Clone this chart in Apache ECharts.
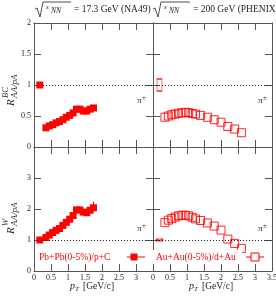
<!DOCTYPE html>
<html><head><meta charset="utf-8">
<script src="https://cdn.jsdelivr.net/npm/echarts@6/dist/echarts.min.js"></script>
<style>html,body{margin:0;padding:0;background:#fff}#c{width:276px;height:296px}</style>
</head><body><div id="c"></div>
<script>
// ---- data ----
const pT_NA49 = [0.17, 0.35, 0.45, 0.55, 0.65, 0.75, 0.85, 0.95, 1.05, 1.15, 1.25, 1.35, 1.45, 1.55, 1.65, 1.75];
const RBC_NA49 = [1.0, 0.31, 0.34, 0.36, 0.39, 0.41, 0.44, 0.48, 0.51, 0.55, 0.61, 0.61, 0.58, 0.58, 0.61, 0.63];
const RW_NA49  = [1.0, 1.08, 1.16, 1.24, 1.31, 1.37, 1.47, 1.57, 1.67, 1.79, 1.97, 1.97, 1.90, 1.88, 1.96, 2.04];
const RW_NA49_err = [0, 0, 0, 0, 0, 0, 0, 0, 0, 0, 0, 0, 0, 0, 0, 0.2];
const pT_PHENIX = [0.19, 0.35, 0.45, 0.55, 0.65, 0.75, 0.85, 0.95, 1.05, 1.15, 1.25, 1.4, 1.6, 1.8, 2.0, 2.2, 2.4, 2.6];
const RBC_PHENIX = [1.0, 0.48, 0.50, 0.52, 0.53, 0.545, 0.55, 0.56, 0.555, 0.54, 0.53, 0.51, 0.48, 0.44, 0.40, 0.33, 0.29, 0.23];
const RW_PHENIX  = [1.0, 1.56, 1.64, 1.69, 1.74, 1.78, 1.80, 1.80, 1.78, 1.73, 1.68, 1.63, 1.55, 1.45, 1.32, 1.03, 0.89, 0.73];
const legendNA49 = 'Pb+Pb(0-5%)/p+C';
const legendPHENIX = 'Au+Au(0-5%)/d+Au';
const titleNA49 = '= 17.3 GeV (NA49)';
const titlePHENIX = '= 200 GeV (PHENIX)';

const RED = '#ff0000';
const AX = '#555';
const FONT = '"Liberation Serif","DejaVu Serif",serif';

const grids = [
  {left:34, top:23, width:119, height:124, outerBoundsMode:'none', containLabel:false},
  {left:153, top:23, width:119, height:124, outerBoundsMode:'none', containLabel:false},
  {left:34, top:147, width:119, height:124, outerBoundsMode:'none', containLabel:false},
  {left:153, top:147, width:119, height:124, outerBoundsMode:'none', containLabel:false}
];

function zip(xs, ys){ return xs.map((x,i)=>[x, ys[i]]); }

const xAxes = [], yAxes = [];
grids.forEach((g,i)=>{
  const bottomRow = i >= 2;
  const rightCol = i % 2 === 1;
  ['bottom','top'].forEach(pos=>{
    xAxes.push({
      gridIndex:i, type:'value', min:0, max:3.5, interval:0.5, position:pos,
      axisLine:{show:true, onZero:false, lineStyle:{color:AX, width:1}},
      axisTick:{show:true, inside:true, length:7, lineStyle:{color:AX}},
      splitLine:{show:false},
      axisLabel:{show: bottomRow && pos==='bottom', showMaxLabel: rightCol, alignMaxLabel:'center', hideOverlap:false, fontFamily:FONT, fontSize:8, color:'#222', margin:3}
    });
  });
  ['left','right'].forEach(pos=>{
    yAxes.push({
      gridIndex:i, type:'value', min:0, max: bottomRow?4:2, interval: bottomRow?1:0.5, position:pos,
      axisLine:{show:true, onZero:false, lineStyle:{color:AX, width:1}},
      axisTick:{show:true, inside:true, length:7, lineStyle:{color:AX}},
      splitLine:{show:false},
      axisLabel:{show: !rightCol && pos==='left', showMaxLabel: !bottomRow, fontFamily:FONT, fontSize:8, color:'#222', margin:3}
    });
  });
});

function refLine(i){
  return {type:'line', xAxisIndex:2*i, yAxisIndex:2*i, data:[], z:1, silent:true,
    markLine:{silent:true, symbol:'none', label:{show:false},
      lineStyle:{color:'#222', type:[1,2], width:1}, data:[{yAxis:1}]}};
}

const series = [
  refLine(0), refLine(1), refLine(2), refLine(3),
  {type:'scatter', name:legendNA49, xAxisIndex:0, yAxisIndex:0, z:3, symbol:'rect', symbolSize:7,
   itemStyle:{color:RED, opacity:1}, data: zip(pT_NA49, RBC_NA49)},
  {type:'scatter', name:legendPHENIX, xAxisIndex:2, yAxisIndex:2, z:3, symbol:'rect',
   symbolSize:(v,p)=> p.dataIndex===0 ? [5,12] : 8,
   itemStyle:{color:'rgba(0,0,0,0)', borderColor:RED, borderWidth:1, opacity:0.85}, data: zip(pT_PHENIX, RBC_PHENIX)},
  {type:'custom', xAxisIndex:4, yAxisIndex:4, z:4, silent:true,
   data: pT_NA49.map((x,i)=>[x, RW_NA49[i], RW_NA49_err[i]]).filter(d=>d[2]>0),
   renderItem:(params, api)=>{
     const p0 = api.coord([api.value(0), api.value(1)]);
     const p1 = api.coord([api.value(0), api.value(1)+api.value(2)]);
     return {type:'line', shape:{x1:p0[0], y1:p0[1], x2:p1[0], y2:p1[1]}, style:{stroke:RED, lineWidth:1}};
   }},
  {type:'scatter', name:legendNA49, xAxisIndex:4, yAxisIndex:4, z:3, symbol:'rect', symbolSize:7,
   itemStyle:{color:RED, opacity:1}, data: zip(pT_NA49, RW_NA49)},
  {type:'scatter', name:legendPHENIX, xAxisIndex:6, yAxisIndex:6, z:3, symbol:'rect',
   symbolSize:(v,p)=> p.dataIndex===0 ? [5,2] : 8,
   itemStyle:{color:'rgba(0,0,0,0)', borderColor:RED, borderWidth:1, opacity:0.85}, data: zip(pT_PHENIX, RW_PHENIX)}
];

function txt(x,y,text,opts){
  return {type:'text', x:x, y:y, z:100, style:Object.assign({text:text, fontFamily:FONT, fontSize:8, fill:'#222', align:'left', verticalAlign:'middle'}, opts||{})};
}
function rot(el){ el.rotation = Math.PI/2; return el; }
function pion(x,y){ return [txt(x,y+1,'π',{fontSize:9}), txt(x+5,y-2,'±',{fontSize:7})]; }

const graphic = [
  {type:'polyline', z:100, shape:{points:[[35,9],[37,8],[40,17],[43,2],[71,2]]}, style:{stroke:'#222', lineWidth:0.8, fill:null}},
  txt(46,7,'s',{fontStyle:'italic', fontSize:7}),
  txt(51,11,'NN',{fontStyle:'italic', fontSize:7.5}),
  txt(74,9,titleNA49,{fontSize:9.5}),
  {type:'polyline', z:100, shape:{points:[[153,9],[155,8],[158,17],[161,2],[190,2]]}, style:{stroke:'#222', lineWidth:0.8, fill:null}},
  txt(164,7,'s',{fontStyle:'italic', fontSize:7}),
  txt(169,11,'NN',{fontStyle:'italic', fontSize:7.5}),
  txt(193,9,titlePHENIX,{fontSize:9.5}),
  rot(txt(11,106,'R',{fontStyle:'italic', fontSize:11, fill:'#333'})),
  rot(txt(6,98,'BC',{fontStyle:'italic', fontSize:8.5, fill:'#333'})),
  rot(txt(15,98,'AA/pA',{fontStyle:'italic', fontSize:9, fill:'#333'})),
  rot(txt(11,234,'R',{fontStyle:'italic', fontSize:11, fill:'#333'})),
  rot(txt(6,226,'W',{fontStyle:'italic', fontSize:8.5, fill:'#333'})),
  rot(txt(15,226,'AA/pA',{fontStyle:'italic', fontSize:9, fill:'#333'})),
  txt(70,286,'p',{fontStyle:'italic', fontSize:10}),
  txt(75,289,'T',{fontStyle:'italic', fontSize:7}),
  txt(83,286,'[GeV/c]',{fontSize:9.5}),
  txt(189,286,'p',{fontStyle:'italic', fontSize:10}),
  txt(194,289,'T',{fontStyle:'italic', fontSize:7}),
  txt(202,286,'[GeV/c]',{fontSize:9.5}),
  ...pion(137,100), ...pion(258,100), ...pion(137,228), ...pion(258,228),
  txt(39,257,legendNA49,{fill:RED, fontSize:9.5}),
  {type:'line', z:100, shape:{x1:127,y1:257,x2:145,y2:257}, style:{stroke:RED, lineWidth:1}},
  {type:'rect', z:101, shape:{x:130.5,y:253.5,width:7,height:7}, style:{fill:RED}},
  {type:'rect', z:99, shape:{x:150,y:250,width:92,height:14}, style:{fill:'#fff'}},
  txt(156,257,legendPHENIX,{fill:RED, fontSize:9.5}),
  {type:'line', z:100, shape:{x1:246,y1:257,x2:264,y2:257}, style:{stroke:RED, lineWidth:1}},
  {type:'rect', z:101, shape:{x:251,y:253,width:8,height:8}, style:{fill:'#fff', stroke:RED, lineWidth:1}}
];

const chart = echarts.init(document.getElementById('c'), null, {renderer:'canvas'});
chart.setOption({
  animation:false, backgroundColor:'#fff',
  grid: grids, xAxis: xAxes, yAxis: yAxes, series: series, graphic: graphic
});
</script></body></html>
